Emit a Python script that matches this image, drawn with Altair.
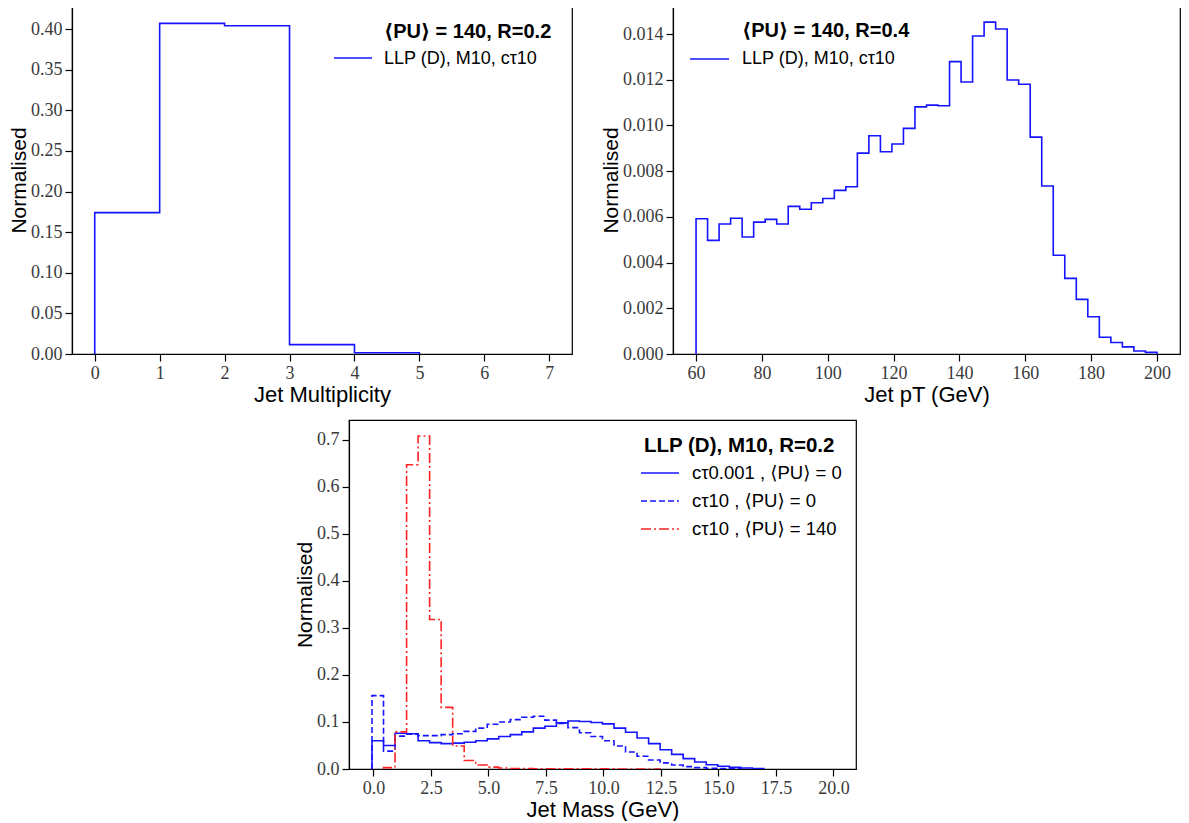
import altair as alt
import pandas as pd

SERIF = "Liberation Serif"
SANS = "Liberation Sans, DejaVu Sans"
BLUE = "#1414ff"
RED = "#ff2424"

# ---------------- data ----------------
mult_edges = [0, 1, 2, 3, 4, 5, 6, 7]
mult_vals = [0.174, 0.407, 0.404, 0.0115, 0.0015, 0.0, 0.0]

pt_edges = [60, 63.5, 67, 70.5, 74, 77.5, 81, 84.5, 88, 91.5, 95, 98.5, 102, 105.5,
            109, 112.5, 116, 119.5, 123, 126.5, 130, 133.5, 137, 140.5, 144, 147.5,
            151, 154.5, 158, 161.5, 165, 168.5, 172, 175.5, 179, 182.5, 186, 189.5,
            193, 196.5, 200]
pt_vals = [0.00592, 0.00497, 0.00569, 0.00594, 0.00512, 0.00577, 0.00589, 0.00569,
           0.00646, 0.00633, 0.00662, 0.00680, 0.00716, 0.00732, 0.00879, 0.00955,
           0.00885, 0.00919, 0.00987, 0.01081, 0.01089, 0.01086, 0.01279, 0.01190,
           0.01391, 0.01452, 0.01422, 0.01199, 0.01180, 0.00949, 0.00735, 0.00432,
           0.00331, 0.00239, 0.00163, 0.00073, 0.00050, 0.00031, 0.00013, 0.00007]

mass_edges = [-0.06, 0.441, 0.942, 1.443, 1.944, 2.445, 2.946, 3.447, 3.948, 4.449,
              4.95, 5.451, 5.952, 6.453, 6.954, 7.455, 7.956, 8.457, 8.958, 9.459,
              9.96, 10.461, 10.962, 11.463, 11.964, 12.465, 12.966, 13.467, 13.968,
              14.469, 14.97, 15.471, 15.972, 16.473, 16.974, 17.475, 17.976, 18.477,
              18.978, 19.479, 19.98]
mass_ct0001_pu0 = [0.060, 0.050, 0.076, 0.075, 0.060, 0.056, 0.054, 0.055, 0.057, 0.060,
                   0.064, 0.069, 0.073, 0.079, 0.087, 0.091, 0.098, 0.102, 0.101, 0.099,
                   0.096, 0.087, 0.078, 0.066, 0.054, 0.041, 0.031, 0.022, 0.015, 0.009,
                   0.006, 0.0035, 0.002, 0.0008, 0, 0, 0, 0, 0, 0]
mass_ct10_pu0 = [0.156, 0.038, 0.070, 0.074, 0.071, 0.071, 0.073, 0.075, 0.080, 0.087,
                 0.095, 0.100, 0.105, 0.110, 0.112, 0.104, 0.097, 0.088, 0.077, 0.069,
                 0.060, 0.049, 0.036, 0.027, 0.019, 0.013, 0.0085, 0.005, 0.003, 0.0015,
                 0.0008, 0.0004, 0, 0, 0, 0, 0, 0, 0, 0]
mass_ct10_pu140 = [0, 0.003, 0.079, 0.647, 0.708, 0.318, 0.131, 0.049, 0.018, 0.0085,
                   0.004, 0.002, 0.0012, 0.0008, 0.0005, 0.0004, 0.0003, 0.0003, 0.0002,
                   0.0002, 0.0002, 0.0001, 0.0001, 0.0001, 0.0001, 0, 0, 0, 0, 0,
                   0, 0, 0, 0, 0, 0, 0, 0, 0, 0]

mass_labels = ["cτ0.001 , ⟨PU⟩ = 0", "cτ10 , ⟨PU⟩ = 0", "cτ10 , ⟨PU⟩ = 140"]


def steps(edges, vals):
    nz = [i for i, v in enumerate(vals) if v > 0]
    i0, i1 = nz[0], nz[-1]
    pts = [(edges[i0], 0.0)]
    for i in range(i0, i1 + 1):
        pts.append((edges[i], vals[i]))
        pts.append((edges[i + 1], vals[i]))
    pts.append((edges[i1 + 1], 0.0))
    return pd.DataFrame({"x": [p[0] for p in pts], "y": [p[1] for p in pts],
                         "i": list(range(len(pts)))})


def x_axis(title, values, fmt):
    return alt.Axis(title=title, values=values, format=fmt, grid=False,
                    domainColor="black", domainWidth=1.2, tickColor="black",
                    tickWidth=1.2, tickSize=7, labelFont=SERIF, labelFontSize=18,
                    labelColor="#3a3a3a", labelPadding=3, labelFlush=False,
                    titleFont=SANS, titleFontSize=22, titleFontWeight="normal",
                    titleColor="black", titlePadding=2, zindex=1)


def y_axis(values, fmt):
    return alt.Axis(title="Normalised", values=values, format=fmt, grid=False,
                    domainColor="black", domainWidth=1.2, tickColor="black",
                    tickWidth=1.2, tickSize=7, labelFont=SERIF, labelFontSize=18,
                    labelColor="#3a3a3a", labelPadding=3, labelFlush=False,
                    titleFont=SANS, titleFontSize=21, titleFontWeight="normal",
                    titleColor="black", titlePadding=1, zindex=1)


def hist_layer(df, xs, ys, color, dash=None):
    kw = dict(color=color, strokeWidth=1.6, clip=True)
    if dash is not None:
        kw["strokeDash"] = dash
    return alt.Chart(df).mark_line(**kw).encode(x=xs, y=ys, order="i:Q")


def text_layer(txt, x, y, bold=False, size=18):
    return alt.Chart(pd.DataFrame({"t": [txt]})).mark_text(
        font=SANS, fontSize=size, fontWeight="bold" if bold else "normal",
        align="left", baseline="middle", color="black"
    ).encode(x=alt.value(x), y=alt.value(y), text="t:N")


def key_line(x1, x2, y, color, dash=None):
    kw = dict(color=color, strokeWidth=1.6)
    if dash is not None:
        kw["strokeDash"] = dash
    return alt.Chart(pd.DataFrame({"k": [0]})).mark_rule(**kw).encode(
        x=alt.value(x1), x2=alt.value(x2), y=alt.value(y))


# ---------------- panel 1 : jet multiplicity ----------------
x1 = alt.X("x:Q", scale=alt.Scale(domain=[-0.35, 7.35], nice=False, zero=False),
           axis=x_axis("Jet Multiplicity", list(range(8)), "d"))
y1 = alt.Y("y:Q", scale=alt.Scale(domain=[0, 0.4284], nice=False),
           axis=y_axis([0, 0.05, 0.1, 0.15, 0.2, 0.25, 0.3, 0.35, 0.4], ".2f"))
tl = alt.layer(
    hist_layer(steps(mult_edges, mult_vals), x1, y1, BLUE),
    text_layer("⟨PU⟩ = 140, R=0.2", 312, 26, bold=True, size=20),
    key_line(262, 300, 52, BLUE),
    text_layer("LLP (D), M10, cτ10", 312, 53),
).properties(width=500, height=348)

# ---------------- panel 2 : jet pT ----------------
x2 = alt.X("x:Q", scale=alt.Scale(domain=[53, 207], nice=False, zero=False),
           axis=x_axis("Jet pT (GeV)", [60, 80, 100, 120, 140, 160, 180, 200], "d"))
y2 = alt.Y("y:Q", scale=alt.Scale(domain=[0, 0.015225], nice=False),
           axis=y_axis([0, 0.002, 0.004, 0.006, 0.008, 0.010, 0.012, 0.014], ".3f"))
tr = alt.layer(
    hist_layer(steps(pt_edges, pt_vals), x2, y2, BLUE),
    text_layer("⟨PU⟩ = 140, R=0.4", 69, 25, bold=True, size=20),
    key_line(17, 56, 53, BLUE),
    text_layer("LLP (D), M10, cτ10", 69, 53),
).properties(width=507, height=348)

# ---------------- panel 3 : jet mass ----------------
x3 = alt.X("x:Q", scale=alt.Scale(domain=[-1.06, 20.98], nice=False, zero=False),
           axis=x_axis("Jet Mass (GeV)", [0, 2.5, 5, 7.5, 10, 12.5, 15, 17.5, 20], ".1f"))
y3 = alt.Y("y:Q", scale=alt.Scale(domain=[0, 0.742], nice=False),
           axis=y_axis([0, 0.1, 0.2, 0.3, 0.4, 0.5, 0.6, 0.7], ".1f"))
DASH = [6, 3]
DASHDOT = [10, 3, 2, 3]
bot = alt.layer(
    hist_layer(steps(mass_edges, mass_ct0001_pu0), x3, y3, BLUE),
    hist_layer(steps(mass_edges, mass_ct10_pu0), x3, y3, BLUE, DASH),
    hist_layer(steps(mass_edges, mass_ct10_pu140), x3, y3, RED, DASHDOT),
    text_layer("LLP (D), M10, R=0.2", 295, 26, bold=True, size=20.5),
    key_line(292, 330, 53, BLUE),
    text_layer(mass_labels[0], 343, 53, size=18.5),
    key_line(292, 330, 81, BLUE, DASH),
    text_layer(mass_labels[1], 343, 81, size=18.5),
    key_line(292, 330, 109, RED, DASHDOT),
    text_layer(mass_labels[2], 343, 109, size=18.5),
).properties(width=507, height=349)

spacer = alt.Chart(pd.DataFrame({"k": [0]})).mark_rule(opacity=0).encode(
    x=alt.value(0), x2=alt.value(221), y=alt.value(0)
).properties(width=221, height=10, view=alt.ViewBackground(strokeOpacity=0))

chart = alt.vconcat(
    alt.hconcat(tl, tr, spacing=26),
    alt.hconcat(spacer, bot, spacing=0),
    spacing=13,
).properties(
    padding={"top": -3, "left": -1, "right": 0, "bottom": 0}
).configure_view(stroke="black", strokeWidth=1.2)

chart.save("out.html", embed_options={"renderer": "svg", "actions": False})
